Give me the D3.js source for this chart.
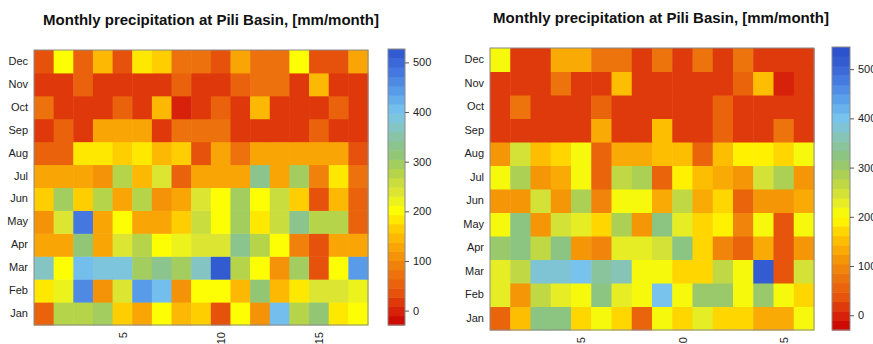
<!DOCTYPE html>
<html>
<head>
<meta charset="utf-8">
<script src="https://cdn.jsdelivr.net/npm/d3@7"></script>
<style>
  body { margin: 0; background: #fff; }
  svg { font-family: "Liberation Sans", Arial, sans-serif; }
  .title { font-weight: bold; font-size: 15px; fill: #111; }
  .axis text { font-size: 11px; fill: #222; }
  .axis path { display: none; }
</style>
</head>
<body>
<svg id="chart" width="873" height="344"></svg>
<script>
// month names, bottom row first
const months = ['Jan', 'Feb', 'Mar', 'Apr', 'May', 'Jun', 'Jul', 'Aug', 'Sep', 'Oct', 'Nov', 'Dec'];
const yearsLeft = d3.range(1, 18);
const yearsRight = d3.range(1, 17);
const xTicks = [5, 10, 15];
const cbTicks = [0, 100, 200, 300, 400, 500];
const titleText = 'Monthly precipitation at Pili Basin, [mm/month]';

// precipitation, mm/month; one row per month (Jan..Dec), one value per year
const pcpLeft = [
  [55, 280, 280, 290, 160, 130, 200, 140, 160, 35, 200, 110, 410, 270, 310, 180, 200],
  [180, 230, 470, 110, 240, 440, 410, 110, 200, 200, 140, 320, 140, 180, 240, 240, 230],
  [370, 200, 410, 380, 380, 290, 330, 290, 370, 510, 280, 200, 110, 300, 45, 200, 450],
  [120, 120, 320, 120, 240, 280, 200, 230, 235, 235, 330, 280, 200, 100, 45, 120, 130],
  [110, 235, 480, 120, 200, 120, 120, 170, 260, 205, 290, 180, 260, 340, 270, 270, 55],
  [170, 290, 170, 270, 120, 270, 110, 120, 240, 210, 290, 200, 260, 170, 45, 140, 50],
  [120, 120, 130, 115, 280, 140, 240, 55, 120, 120, 120, 340, 120, 290, 100, 180, 80],
  [60, 60, 190, 190, 160, 190, 140, 160, 30, 130, 65, 130, 130, 130, 130, 130, 30],
  [25, 60, 25, 120, 120, 120, 25, 65, 65, 65, 25, 25, 25, 25, 60, 25, 25],
  [65, 25, 25, 25, 60, 25, 150, 0, 25, 60, 25, 150, 25, 25, 25, 60, 25],
  [25, 25, 60, 25, 25, 25, 25, 60, 25, 25, 60, 65, 65, 25, 150, 25, 25],
  [30, 200, 60, 150, 30, 180, 160, 65, 65, 30, 130, 70, 70, 210, 30, 30, 120]
];
const pcpRight = [
  [55, 150, 320, 320, 170, 200, 170, 55, 200, 180, 235, 170, 170, 140, 140, 200],
  [225, 120, 260, 230, 200, 320, 230, 210, 410, 200, 300, 310, 200, 300, 200, 180],
  [230, 260, 380, 380, 410, 340, 370, 200, 200, 175, 180, 260, 200, 510, 45, 240],
  [300, 320, 260, 320, 120, 100, 230, 230, 240, 320, 170, 100, 50, 140, 45, 120],
  [200, 320, 120, 250, 230, 170, 290, 120, 330, 230, 175, 195, 90, 200, 45, 200],
  [120, 120, 250, 110, 290, 100, 200, 200, 130, 260, 140, 170, 50, 120, 120, 125],
  [200, 280, 120, 140, 200, 50, 270, 290, 50, 190, 150, 130, 120, 240, 280, 110],
  [120, 240, 150, 170, 200, 60, 130, 140, 160, 150, 65, 160, 190, 195, 175, 200],
  [25, 25, 25, 25, 25, 130, 25, 25, 150, 25, 25, 65, 25, 25, 70, 25],
  [25, 70, 25, 25, 25, 65, 25, 25, 25, 25, 25, 65, 25, 25, 25, 25],
  [25, 25, 25, 70, 25, 25, 150, 25, 25, 25, 25, 25, 60, 150, 0, 25],
  [200, 25, 25, 130, 130, 80, 80, 25, 75, 25, 75, 25, 75, 25, 25, 25]
];
const zLeft = [-29, 527];
const zRight = [-30, 545];

// colour ramp red -> yellow -> green -> blue
const rampStops = [-30, 0, 40, 80, 120, 160, 200, 240, 280, 320, 360, 400, 440, 480, 530];
const rampColors = ['#c80000', '#d8220a', '#e8580c', '#ee760c', '#f69c06', '#ffc600', '#ffff00',
  '#dce632', '#b2d24c', '#8cc47c', '#88c4b4', '#78c4ee', '#5aa0ea', '#4478e0', '#2c52cc'];
const ramp = d3.scaleLinear().domain(rampStops).range(rampColors).clamp(true);
const nBands = 30;

function bandColor(v, z) {
  const w = (z[1] - z[0]) / nBands;
  let i = Math.floor((v - z[0]) / w);
  i = Math.max(0, Math.min(nBands - 1, i));
  return ramp(z[0] + (i + 0.5) * w);
}

const svg = d3.select('#chart');

function drawPanel(p) {
  const g = svg.append('g');

  const x = d3.scaleBand().domain(p.years).range([p.left, p.right]);
  const y = d3.scaleBand().domain(months).range([p.bottom, p.top]);
  const xLin = d3.scaleLinear().domain([0.5, p.years.length + 0.5]).range([p.left, p.right]);

  // title
  g.append('text')
    .attr('class', 'title')
    .attr('x', p.titleX)
    .attr('y', p.titleY)
    .attr('text-anchor', 'middle')
    .attr('dy', '0.35em')
    .text(titleText);

  // cells
  const cells = [];
  p.data.forEach((row, mi) => row.forEach((v, yi) => cells.push({ m: months[mi], yr: p.years[yi], v: v })));
  g.append('g').selectAll('rect')
    .data(cells)
    .join('rect')
    .attr('x', d => x(d.yr))
    .attr('y', d => y(d.m))
    .attr('width', x.bandwidth() + 0.5)
    .attr('height', y.bandwidth() + 0.5)
    .attr('fill', d => bandColor(d.v, p.z));

  g.append('rect')
    .attr('x', p.left).attr('y', p.top)
    .attr('width', p.right - p.left).attr('height', p.bottom - p.top)
    .attr('fill', 'none').attr('stroke', '#8a8a8a').attr('stroke-width', 1);

  // month axis
  g.append('g')
    .attr('class', 'axis')
    .attr('transform', 'translate(' + p.left + ',0)')
    .call(d3.axisLeft(y).tickSize(0).tickPadding(6));

  // year axis, labels turned
  g.append('g')
    .attr('class', 'axis')
    .attr('transform', 'translate(0,' + p.bottom + ')')
    .call(d3.axisBottom(xLin).tickValues(xTicks).tickSize(0).tickFormat(d3.format('d')))
    .selectAll('text')
    .attr('transform', 'rotate(-90)')
    .attr('text-anchor', 'end')
    .attr('x', -7)
    .attr('y', 0)
    .attr('dy', '0.35em');

  // colour bar
  const cb = d3.scaleLinear().domain(p.z).range([p.cbBottom, p.cbTop]);
  const w = (p.z[1] - p.z[0]) / nBands;
  const bands = d3.range(nBands).map(i => p.z[0] + i * w);
  g.append('g').selectAll('rect')
    .data(bands)
    .join('rect')
    .attr('x', p.cbLeft)
    .attr('y', d => cb(d + w))
    .attr('width', p.cbWidth)
    .attr('height', d => cb(d) - cb(d + w) + 0.5)
    .attr('fill', d => ramp(d + w / 2));
  g.append('rect')
    .attr('x', p.cbLeft).attr('y', p.cbTop)
    .attr('width', p.cbWidth).attr('height', p.cbBottom - p.cbTop)
    .attr('fill', 'none').attr('stroke', '#8a8a8a');

  const cbAxis = g.append('g')
    .attr('class', 'axis')
    .attr('transform', 'translate(' + (p.cbLeft + p.cbWidth) + ',0)')
    .call(d3.axisRight(cb).tickValues(cbTicks).tickSize(4).tickPadding(4));
  cbAxis.selectAll('line').attr('stroke', '#555');
}

drawPanel({
  data: pcpLeft, years: yearsLeft, z: zLeft,
  left: 34, right: 368, top: 50, bottom: 325,
  cbLeft: 388, cbWidth: 17, cbTop: 49, cbBottom: 325,
  titleX: 211, titleY: 20
});

drawPanel({
  data: pcpRight, years: yearsRight, z: zRight,
  left: 490, right: 814, top: 48, bottom: 330,
  cbLeft: 832, cbWidth: 18, cbTop: 47, cbBottom: 330,
  titleX: 661, titleY: 18
});
</script>
</body>
</html>
